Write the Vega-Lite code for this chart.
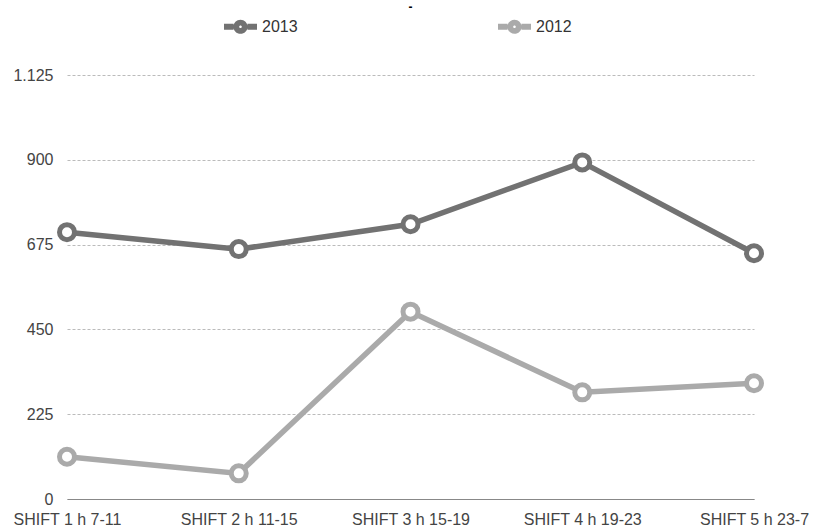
{
  "$schema": "https://vega.github.io/schema/vega-lite/v6.json",
  "autosize": "none",
  "width": 687,
  "height": 424,
  "padding": {"left": 67, "top": 75, "right": 62, "bottom": 30},
  "background": "white",
  "title": {"text": "-", "fontSize": 12, "fontWeight": "bold", "color": "#000000", "frame": "group", "anchor": "middle", "offset": -4, "font": "Liberation Sans"},
  "config": {
    "view": {"stroke": null},
    "font": "Liberation Sans"
  },
  "data": {
    "values": [
      {"shift": "SHIFT 1 h 7-11", "year": "2013", "value": 708},
      {"shift": "SHIFT 2 h 11-15", "year": "2013", "value": 663},
      {"shift": "SHIFT 3  h 15-19", "year": "2013", "value": 729},
      {"shift": "SHIFT 4 h 19-23", "year": "2013", "value": 893},
      {"shift": "SHIFT 5 h 23-7", "year": "2013", "value": 652},
      {"shift": "SHIFT 1 h 7-11", "year": "2012", "value": 112},
      {"shift": "SHIFT 2 h 11-15", "year": "2012", "value": 68},
      {"shift": "SHIFT 3  h 15-19", "year": "2012", "value": 497},
      {"shift": "SHIFT 4 h 19-23", "year": "2012", "value": 283},
      {"shift": "SHIFT 5 h 23-7", "year": "2012", "value": 307}
    ]
  },
  "encoding": {
    "x": {
      "field": "shift", "type": "ordinal",
      "sort": null,
      "scale": {"type": "point", "padding": 0},
      "axis": {
        "title": null, "labelAngle": 0, "labelFontSize": 16, "labelColor": "#444444",
        "labelPadding": 12, "ticks": false, "tickSize": 0, "grid": false,
        "domainColor": "#888888", "domainWidth": 1, "labelOverlap": false, "labelFont": "Liberation Sans"
      }
    },
    "y": {
      "field": "value", "type": "quantitative",
      "scale": {"domain": [0, 1125], "nice": false, "zero": true},
      "axis": {
        "title": null, "values": [0, 225, 450, 675, 900, 1125],
        "labelExpr": "replace(format(datum.value, ','), ',', '.')",
        "labelFontSize": 16, "labelColor": "#444444", "labelPadding": 14,
        "ticks": false, "tickSize": 0, "domain": false,
        "grid": true, "gridDash": [3, 2], "gridColor": "#bbbbbb", "gridWidth": 1,
        "labelFont": "Liberation Sans"
      }
    }
  },
  "layer": [
    {
      "mark": {"type": "line", "strokeWidth": 5.5},
      "encoding": {
        "color": {
          "field": "year", "type": "nominal",
          "scale": {"domain": ["2013", "2012"], "range": ["#727272", "#aaaaaa"]},
          "legend": {
            "title": null, "orient": "none", "direction": "horizontal",
            "legendX": 157, "legendY": -65, "padding": 0,
            "symbolType": "M-1,-0.18H-0.42V0.18H-1Z M0.42,-0.18H1V0.18H0.42Z M0,-0.43A0.43,0.43 0 1,1 0,0.43A0.43,0.43 0 1,1 0,-0.43Z M0,-0.08A0.08,0.08 0 1,0 0,0.08A0.08,0.08 0 1,0 0,-0.08Z",
            "symbolSize": 1089,
            "symbolStrokeWidth": 0,
            "labelFontSize": 16, "labelColor": "#333333", "labelOffset": 5,
            "labelFont": "Liberation Sans",
            "columnPadding": 200,
            "encode": {
              "symbols": {
                "update": {
                  "fill": {"scale": "color", "field": "value"},
                  "fillOpacity": {"value": 1},
                  "opacity": {"value": 1},
                  "strokeWidth": {"value": 0}
                }
              }
            }
          }
        }
      }
    },
    {
      "mark": {"type": "point", "shape": "circle", "size": 225, "strokeWidth": 5, "fill": "white", "filled": false, "opacity": 1},
      "encoding": {
        "stroke": {
          "field": "year", "type": "nominal",
          "scale": {"domain": ["2013", "2012"], "range": ["#727272", "#aaaaaa"]},
          "legend": null
        }
      }
    }
  ]
}
